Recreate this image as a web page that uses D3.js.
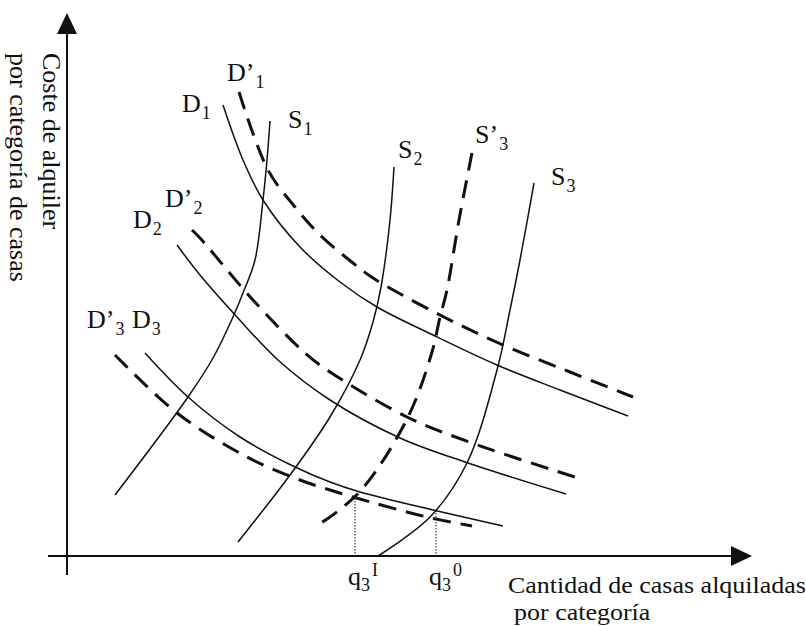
<!DOCTYPE html>
<html>
<head>
<meta charset="utf-8">
<script src="https://d3js.org/d3.v7.min.js"></script>
<style>
  body { margin: 0; background: #fff; }
  svg text { font-family: "Liberation Serif", "Times New Roman", serif; fill: #111; }
</style>
</head>
<body>
<div id="chart"></div>
<script>
// quantity (q) and rental cost (p), in arbitrary units
// dem* = demand curves, sup* = supply curves, *b = shifted (dashed) version
var dem1  = [[31.2,90.2],[35.2,79.2],[39.2,71.2],[46.6,61.8],[54.6,54.8],[62,49.8],[73.2,44.2],[86,38.2],[98.6,33.2],[112.2,28]];
var dem1b = [[34.4,92.8],[40.2,77.2],[45.6,69.8],[50.6,64.2],[57.2,58.6],[61.2,55.6],[74.6,48.2],[87.2,42.2],[100.6,36.8],[113.2,31.8]];
var dem2  = [[22,62.2],[26.6,56.2],[34,47.8],[42.2,39.2],[52.6,31.2],[66.6,23.6],[79.6,18.8],[99.8,12.4]];
var dem2b = [[25,65.2],[26.6,63.6],[37.2,51.2],[47.6,40.6],[52.6,36.8],[68,27.8],[81,22.6],[102.8,15.4]];
var dem3  = [[15.6,40.6],[24.2,31.8],[34.6,23.8],[45.2,18],[52.6,14.8],[58.6,12.8],[73.2,9.2],[87.2,6]];
var dem3b = [[9.6,40.2],[22,28.6],[36,19.8],[46.6,15.2],[52.6,13.2],[57.2,11.8],[72,7.8],[81,6]];
var sup1  = [[40.6,87],[40,79.2],[39.2,71.2],[37.6,59.2],[35.2,52.6],[33.2,47.8],[29.2,39.6],[24.2,31.8],[9.6,12.2]];
var sup2  = [[65.4,77.8],[64.6,67.2],[62.8,53.8],[61.2,46.8],[58.6,39.2],[52.6,27.8],[44.6,16.2],[34.2,2.8]];
var sup3b = [[81,80.6],[78.4,67.2],[76,53.2],[74.6,47.8],[73,40.8],[68.2,27.8],[59.2,13.6],[52.6,7.8],[50,6.2]];
var sup3  = [[93.4,74.6],[90.6,59.2],[88.6,49.2],[86,37.2],[80,18.6],[72.6,7.8],[62.2,0]];

// equilibrium quantities marked on the axis
var qNames = ["I", "0"];
var qValues = [57.6, 73.8];
var qPrices = [11.6, 8.6];

var width = 806, height = 626;

var x = d3.scaleLinear().domain([0, 136]).range([67, 747]);
var y = d3.scaleLinear().domain([0, 108]).range([556, 16]);

var svg = d3.select("#chart").append("svg")
    .attr("width", width)
    .attr("height", height);

// axes with arrow heads
svg.append("line")
    .attr("x1", x(0)).attr("x2", x(0))
    .attr("y1", 575).attr("y2", 30)
    .attr("stroke", "#111").attr("stroke-width", 2);
svg.append("path")
    .attr("d", "M" + x(0) + ",13L" + (x(0) - 10) + ",34L" + (x(0) + 10) + ",34Z")
    .attr("fill", "#111");

svg.append("line")
    .attr("x1", 48).attr("x2", 735)
    .attr("y1", y(0)).attr("y2", y(0))
    .attr("stroke", "#111").attr("stroke-width", 2);
svg.append("path")
    .attr("d", "M752," + y(0) + "L731," + (y(0) - 10) + "L731," + (y(0) + 10) + "Z")
    .attr("fill", "#111");

var line = d3.line()
    .x(function(d) { return x(d[0]); })
    .y(function(d) { return y(d[1]); })
    .curve(d3.curveCatmullRom.alpha(0.5));

var curves = [
    {pts: dem1, dashed: false}, {pts: dem1b, dashed: true},
    {pts: dem2, dashed: false}, {pts: dem2b, dashed: true},
    {pts: dem3, dashed: false}, {pts: dem3b, dashed: true},
    {pts: sup1, dashed: false}, {pts: sup2, dashed: false},
    {pts: sup3b, dashed: true}, {pts: sup3, dashed: false}
];

svg.selectAll("path.curve")
    .data(curves)
    .enter()
    .append("path")
    .attr("class", "curve")
    .attr("d", function(d) { return line(d.pts); })
    .attr("fill", "none")
    .attr("stroke", "#111")
    .attr("stroke-width", function(d) { return d.dashed ? 3 : 1.5; })
    .attr("stroke-dasharray", function(d) { return d.dashed ? "18,10" : null; });

// dotted drop lines
svg.selectAll("line.drop")
    .data(qValues)
    .enter()
    .append("line")
    .attr("class", "drop")
    .attr("x1", function(d) { return x(d); })
    .attr("x2", function(d) { return x(d); })
    .attr("y1", function(d, i) { return y(qPrices[i]); })
    .attr("y2", y(0))
    .attr("stroke", "#111")
    .attr("stroke-width", 1)
    .attr("stroke-dasharray", "1.5,1.5");

// curve labels: main letter (+ prime) with subscript
var labels = [
    {t: "D’", s: "1", x: 227, y: 81},
    {t: "D",  s: "1", x: 182, y: 112},
    {t: "S",  s: "1", x: 288, y: 128},
    {t: "D’", s: "2", x: 165, y: 207},
    {t: "D",  s: "2", x: 133, y: 228},
    {t: "D’", s: "3", x: 87,  y: 328},
    {t: "D",  s: "3", x: 132, y: 328},
    {t: "S",  s: "2", x: 398, y: 158},
    {t: "S’", s: "3", x: 475, y: 143},
    {t: "S",  s: "3", x: 551, y: 185}
];

var lab = svg.selectAll("text.lab")
    .data(labels)
    .enter()
    .append("text")
    .attr("class", "lab")
    .attr("x", function(d) { return d.x; })
    .attr("y", function(d) { return d.y; })
    .style("font-size", "26px")
    .text(function(d) { return d.t; });
lab.append("tspan")
    .attr("dx", 1)
    .attr("dy", 7)
    .style("font-size", "18px")
    .text(function(d) { return d.s; });

// q labels under the axis
var ql = svg.selectAll("text.q")
    .data(qValues)
    .enter()
    .append("text")
    .attr("class", "q")
    .attr("x", function(d) { return x(d) - 7; })
    .attr("y", 585)
    .style("font-size", "26px")
    .text("q");
ql.append("tspan")
    .attr("dy", 6)
    .style("font-size", "18px")
    .text("3");
ql.append("tspan")
    .attr("dx", 2)
    .attr("dy", -15)
    .style("font-size", "18px")
    .text(function(d, i) { return qNames[i]; });

// axis titles (slightly widened so the two lines sit close without clashing)
svg.append("text")
    .attr("transform", "translate(508,593)scale(1.13,1)")
    .style("font-size", "23px")
    .text("Cantidad de casas alquiladas");
svg.append("text")
    .attr("transform", "translate(514,620)scale(1.13,1)")
    .style("font-size", "23px")
    .text("por categoría");

svg.append("text")
    .attr("transform", "translate(43,53)rotate(90)")
    .style("font-size", "26px")
    .text("Coste de alquiler");
svg.append("text")
    .attr("transform", "translate(10,53)rotate(90)")
    .style("font-size", "26px")
    .text("por categoría de casas");
</script>
</body>
</html>
